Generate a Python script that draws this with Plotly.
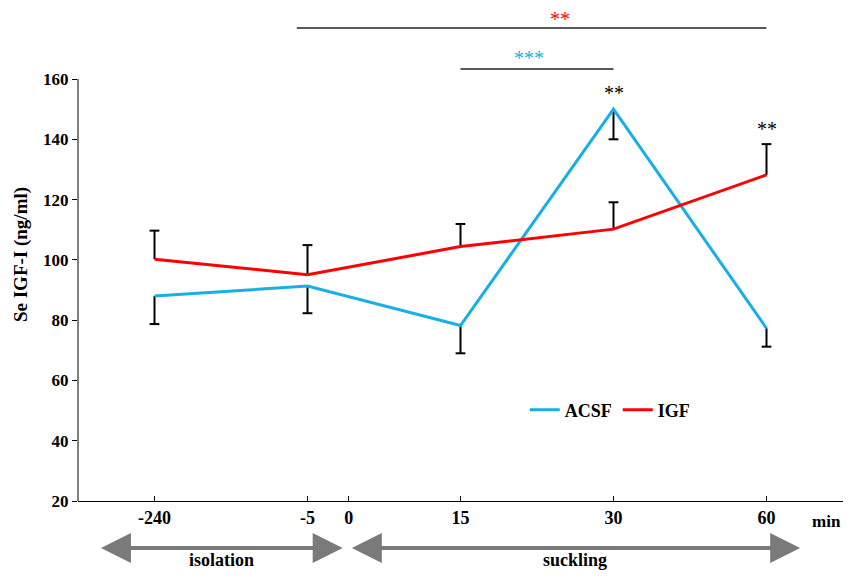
import plotly.graph_objects as go

# ---- data ----
time_labels = ["-240", "-5", "15", "30", "60"]
x_idx = [0, 1, 2, 3, 4]
acsf = [88.0, 91.3, 78.2, 150.0, 77.3]
acsf_err_down = [9.3, 9.0, 9.2, 10.0, 6.1]
igf = [100.2, 95.1, 104.4, 110.2, 128.2]
igf_err_up = [9.5, 9.8, 7.5, 8.9, 10.2]

tick_vals = [0, 1, 1.27, 2, 3, 4]
tick_text = ["-240", "-5", "0", "15", "30", "60"]
y_ticks = [20, 40, 60, 80, 100, 120, 140, 160]

BLUE = "#19AEE6"
RED = "#FF0000"
FONT = "Liberation Serif"

fig = go.Figure()

fig.add_trace(go.Scatter(
    x=x_idx, y=acsf, mode="lines", name="ACSF",
    line=dict(color=BLUE, width=3),
    error_y=dict(type="data", symmetric=False, array=[0] * 5, arrayminus=acsf_err_down,
                 color="black", thickness=2, width=0),
))
fig.add_trace(go.Scatter(
    x=x_idx, y=igf, mode="lines", name="IGF",
    line=dict(color=RED, width=3),
    error_y=dict(type="data", symmetric=False, array=igf_err_up, arrayminus=[0] * 5,
                 color="black", thickness=2, width=0),
))
# caps
fig.add_trace(go.Scatter(
    x=x_idx, y=[v - e for v, e in zip(acsf, acsf_err_down)], mode="markers",
    marker=dict(symbol="line-ew", size=7, line=dict(color="black", width=2)),
    showlegend=False, hoverinfo="skip",
))
fig.add_trace(go.Scatter(
    x=x_idx, y=[v + e for v, e in zip(igf, igf_err_up)], mode="markers",
    marker=dict(symbol="line-ew", size=7, line=dict(color="black", width=2)),
    showlegend=False, hoverinfo="skip",
))

# y axis line only 20..160
fig.add_shape(type="line", xref="paper", yref="y", x0=0, x1=0, y0=20, y1=160,
              line=dict(color="black", width=1))
# significance brackets
fig.add_shape(type="line", xref="x", yref="y", x0=0.93, x1=4, y0=176.9, y1=176.9,
              line=dict(color="#222", width=1.5))
fig.add_shape(type="line", xref="x", yref="y", x0=2, x1=3, y0=163.3, y1=163.3,
              line=dict(color="#222", width=1.5))

ann = [
    dict(x=2.65, y=180.0, text="**", color=RED),
    dict(x=2.45, y=167.0, text="***", color=BLUE),
    dict(x=3, y=155.4, text="**", color="black"),
    dict(x=4, y=143.4, text="**", color="black"),
]
for a in ann:
    fig.add_annotation(x=a["x"], y=a["y"], xref="x", yref="y", text=a["text"],
                       showarrow=False, font=dict(family=FONT, size=20, color=a["color"]))

# min label
fig.add_annotation(x=4.39, y=-0.0406, xref="x", yref="paper", yanchor="middle",
                   text="<b>min</b>", showarrow=False,
                   font=dict(family=FONT, size=17, color="black"))

# arrows
for x0, x1 in [(-0.36, 1.23), (1.28, 4.22)]:
    fig.add_annotation(x=x1, y=-0.0953, xref="x", yref="paper",
                       ax=x0, ay=0, axref="x", ayref="pixel",
                       text="", showarrow=True, arrowhead=2, arrowside="end+start",
                       arrowsize=1.5, arrowwidth=4, arrowcolor="#7a7a7a")
fig.add_annotation(x=0.44, y=-0.1197, xref="x", yref="paper", yanchor="middle",
                   text="<b>isolation</b>", showarrow=False, borderpad=0,
                   font=dict(family=FONT, size=18, color="black"))
fig.add_annotation(x=2.75, y=-0.1197, xref="x", yref="paper", yanchor="middle",
                   text="<b>suckling</b>", showarrow=False, borderpad=0,
                   font=dict(family=FONT, size=18, color="black"))

fig.update_layout(
    width=835, height=565,
    margin=dict(l=70, r=0, t=0, b=72, autoexpand=False),
    plot_bgcolor="white", paper_bgcolor="white",
    font=dict(family=FONT, size=18, color="black"),
    showlegend=True,
    legend=dict(orientation="h", x=0.584, y=0.1846, xanchor="left", yanchor="middle",
                entrywidth=48, entrywidthmode="pixels",
                font=dict(family=FONT, size=18, color="black", weight="bold"),
                bgcolor="rgba(0,0,0,0)"),
    xaxis=dict(range=[-0.5, 4.5], tickvals=tick_vals, ticktext=["<b>%s</b>" % t for t in tick_text],
               showline=True, linecolor="black", linewidth=1, ticks="inside", ticklen=5,
               tickcolor="black", showgrid=False, zeroline=False,
               tickfont=dict(family=FONT, size=18)),
    yaxis=dict(range=[20, 183.56], tickvals=y_ticks, ticktext=["<b>%d</b>" % v for v in y_ticks],
               showline=False, ticks="outside", ticklen=5, tickcolor="black",
               showgrid=False, zeroline=False, tickfont=dict(family=FONT, size=17),
               title=dict(text="<b>Se IGF-I (ng/ml)</b>", font=dict(family=FONT, size=19), standoff=10)),
)

fig.write_html("out.html")
